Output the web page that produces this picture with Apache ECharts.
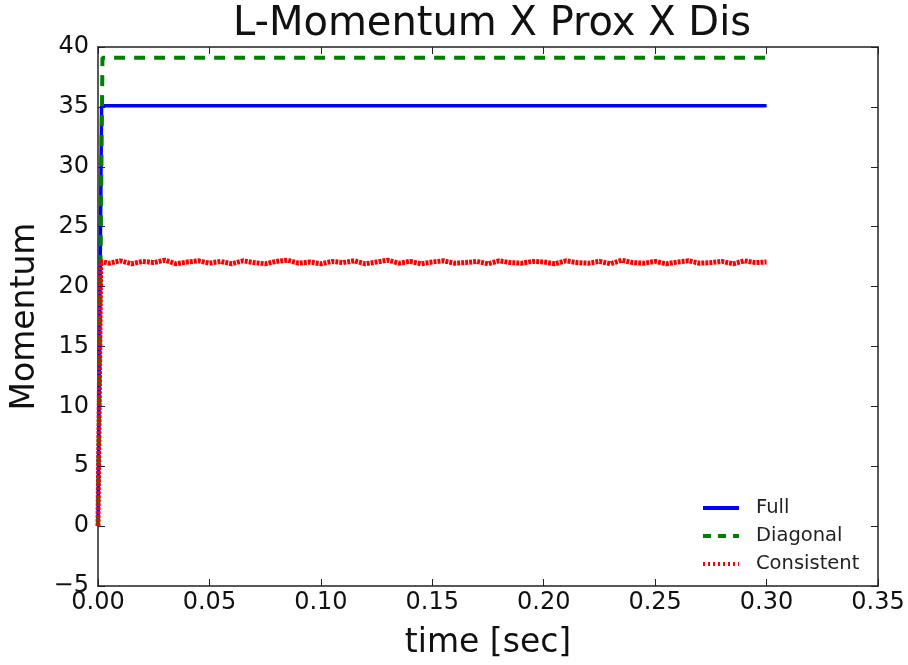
<!DOCTYPE html>
<html>
<head>
<meta charset="utf-8">
<script src="https://cdn.jsdelivr.net/npm/echarts@6/dist/echarts.min.js"></script>
<style>html,body{margin:0;padding:0;background:#fff;}#c{width:908px;height:665px;}</style>
</head>
<body>
<div id="c"></div>
<script>
var titleText = 'L-Momentum X Prox X Dis';
var xTicks = [0, 0.05, 0.10, 0.15, 0.20, 0.25, 0.30, 0.35];
var yTicks = [-5, 0, 5, 10, 15, 20, 25, 30, 35, 40];
var seriesNames = ['Full', 'Diagonal', 'Consistent'];

var fullTime = [0, 0.0016, 0.30];
var fullValue = [0, 35.1, 35.1];

var diagTime = [0, 0.002, 0.30];
var diagValue = [0, 39.1, 39.1];

var consTime = [0, 0.0012, 0.005, 0.010, 0.015, 0.020, 0.025, 0.030, 0.035, 0.040, 0.045,
  0.050, 0.055, 0.060, 0.065, 0.070, 0.075, 0.080, 0.085, 0.090, 0.095,
  0.100, 0.105, 0.110, 0.115, 0.120, 0.125, 0.130, 0.135, 0.140, 0.145,
  0.150, 0.155, 0.160, 0.165, 0.170, 0.175, 0.180, 0.185, 0.190, 0.195,
  0.200, 0.205, 0.210, 0.215, 0.220, 0.225, 0.230, 0.235, 0.240, 0.245,
  0.250, 0.255, 0.260, 0.265, 0.270, 0.275, 0.280, 0.285, 0.290, 0.295, 0.300];
var consValue = [0, 22.1, 21.95, 22.15, 21.9, 22.1, 22.0, 22.2, 21.9, 22.05, 22.15,
  21.95, 22.1, 21.9, 22.15, 22.0, 21.9, 22.1, 22.2, 21.95, 22.05,
  21.9, 22.1, 22.0, 22.15, 21.9, 22.05, 22.2, 21.95, 22.1, 21.9,
  22.05, 22.15, 21.95, 22.0, 22.1, 21.9, 22.15, 22.0, 21.95, 22.1,
  22.05, 21.9, 22.15, 22.0, 21.95, 22.1, 21.9, 22.2, 22.0, 21.95,
  22.1, 21.9, 22.05, 22.15, 21.95, 22.0, 22.1, 21.9, 22.15, 22.0, 22.05];

function pairs(t, v) { return t.map(function (x, i) { return [x, v[i]]; }); }

var font = 'DejaVu Sans';
var axisColor = '#222';
var chart = echarts.init(document.getElementById('c'), null, {renderer: 'canvas'});

function xAxisDef(pos, showLabel, name) {
  return {
    type: 'value', position: pos, min: xTicks[0], max: xTicks[xTicks.length - 1], interval: 0.05,
    name: name, nameLocation: 'middle', nameGap: 41,
    nameTextStyle: {fontFamily: font, fontSize: 33, color: '#111'},
    axisLine: {show: true, onZero: false, lineStyle: {color: axisColor, width: 1.5}},
    axisTick: {show: true, inside: true, length: 7, lineStyle: {color: axisColor, width: 1}},
    axisLabel: {show: showLabel, margin: 5, fontFamily: font, fontSize: 24, color: '#111',
      formatter: function (v) { return v.toFixed(2); }},
    splitLine: {show: false}
  };
}
function yAxisDef(pos, showLabel, name) {
  return {
    type: 'value', position: pos, min: yTicks[0], max: yTicks[yTicks.length - 1], interval: 5,
    name: name, nameLocation: 'middle', nameGap: 56,
    nameTextStyle: {fontFamily: font, fontSize: 33, color: '#111'},
    axisLine: {show: true, onZero: false, lineStyle: {color: axisColor, width: 1.5}},
    axisTick: {show: true, inside: true, length: 7, lineStyle: {color: axisColor, width: 1}},
    axisLabel: {show: showLabel, margin: 9, fontFamily: font, fontSize: 24, color: '#111',
      formatter: function (v) { return v < 0 ? '\u2212' + Math.abs(v) : String(v); }},
    splitLine: {show: false}
  };
}

chart.setOption({
  animation: false,
  backgroundColor: '#fff',
  title: {
    text: titleText, left: 487, top: 0, textAlign: 'center',
    textStyle: {fontFamily: font, fontSize: 40, fontWeight: 'normal', color: '#111'}
  },
  grid: {left: 98, right: 30, top: 47, bottom: 75, containLabel: false},
  xAxis: [xAxisDef('bottom', true, 'time [sec]'), xAxisDef('top', false, '')],
  yAxis: [yAxisDef('left', true, 'Momentum'), yAxisDef('right', false, '')],
  legend: {
    orient: 'vertical', left: 696, top: 493, itemWidth: 36, itemHeight: 20, itemGap: 8,
    data: [
      {name: seriesNames[0], lineStyle: {width: 4, color: '#0000ff', type: 'solid'}},
      {name: seriesNames[1], lineStyle: {width: 4, color: '#008000', type: [8, 7]}},
      {name: seriesNames[2], lineStyle: {width: 4, color: '#ff0000', type: [2, 3]}}
    ],
    itemStyle: {opacity: 0},
    textStyle: {fontFamily: font, fontSize: 19.5, color: '#222', lineHeight: 20, padding: [0, 0, 0, 12]}
  },
  series: [
    {name: seriesNames[0], type: 'line', xAxisIndex: 0, yAxisIndex: 0, showSymbol: false, symbol: 'none',
      data: pairs(fullTime, fullValue), lineStyle: {color: '#0000ff', width: 3.5}, itemStyle: {color: '#0000ff'}},
    {name: seriesNames[1], type: 'line', xAxisIndex: 0, yAxisIndex: 0, showSymbol: false, symbol: 'none',
      data: pairs(diagTime, diagValue), lineStyle: {color: '#008000', width: 4, type: [11, 9]}, itemStyle: {color: '#008000'}},
    {name: seriesNames[2], type: 'line', xAxisIndex: 0, yAxisIndex: 0, showSymbol: false, symbol: 'none',
      data: pairs(consTime, consValue), lineStyle: {color: '#ff0000', width: 5, type: [3, 1]}, itemStyle: {color: '#ff0000'}}
  ]
});
</script>
</body>
</html>
